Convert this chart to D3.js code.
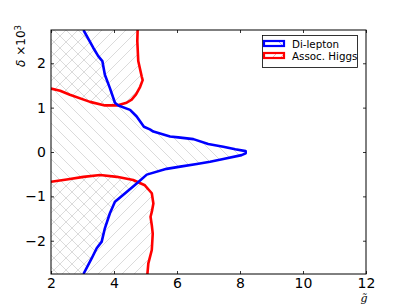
<!DOCTYPE html>
<html><head><meta charset="utf-8">
<script src="https://cdn.jsdelivr.net/npm/d3@7"></script>
<style>html,body{margin:0;padding:0;background:#fff}svg{display:block}</style>
</head><body>
<script>
// ---- data ----
const xTicks = [2, 4, 6, 8, 10, 12];
const yTicks = [-2, -1, 0, 1, 2];
const seriesNames = ["Di-lepton", "Assoc. Higgs"];
// Di-lepton contour (top to bottom)
const dilepX = [3.03,3.34,3.50,3.63,3.71,3.87,4.03,4.14,4.51,4.72,4.95,5.14,5.25,5.78,6.04,6.52,6.99,7.47,7.85,8.18,8.18,8.05,7.47,7.05,6.63,6.10,5.67,5.04,4.72,4.40,4.03,3.87,3.71,3.61,3.45,3.29,3.03];
const dilepY = [2.75,2.35,2.16,2.05,1.74,1.44,1.11,1.05,0.95,0.80,0.57,0.51,0.46,0.35,0.33,0.29,0.18,0.12,0.06,0.02,-0.03,-0.07,-0.16,-0.22,-0.27,-0.33,-0.38,-0.51,-0.71,-0.90,-1.12,-1.38,-1.72,-2.02,-2.17,-2.40,-2.75];
// Assoc. Higgs contour, upper branch (left edge to top edge)
const higgsTopX = [2.0,2.29,2.60,3.24,3.71,4.09,4.40,4.56,4.70,4.83,4.91,4.88,4.77,4.74,4.75];
const higgsTopY = [1.43,1.38,1.29,1.13,1.05,1.05,1.11,1.18,1.30,1.47,1.62,1.70,2.05,2.50,2.75];
// Assoc. Higgs contour, lower branch (left edge to bottom edge)
const higgsBotX = [2.0,2.50,3.03,3.56,4.09,4.61,4.98,5.20,5.25,5.20,5.16,5.20,5.23,5.20,5.09,5.06];
const higgsBotY = [-0.67,-0.62,-0.56,-0.52,-0.56,-0.63,-0.75,-0.93,-1.16,-1.35,-1.46,-1.65,-1.84,-2.21,-2.51,-2.75];
const xDomain = [2, 12];
const yDomain = [-2.75, 2.75];

// ---- layout ----
const W = 407, H = 305;
const L = 51, R = 366, T = 30, B = 274;
const svg = d3.select("body").append("svg").attr("width", W).attr("height", H)
  .style("font-family", "'DejaVu Sans', sans-serif");
const x = d3.scaleLinear().domain(xDomain).range([L, R]);
const y = d3.scaleLinear().domain(yDomain).range([B, T]);

const defs = svg.append("defs");
const hatchCol = "#cbcbcb", S = 12;
function mkPattern(id, dir, col, sw) {
  const p = defs.append("pattern").attr("id", id).attr("patternUnits", "userSpaceOnUse")
    .attr("width", S).attr("height", S);
  const segs = dir === "back"
    ? [[0,0,S,S],[-S/2,S/2,S/2,S*1.5],[S/2,-S/2,S*1.5,S/2]]
    : [[0,S,S,0],[-S/2,S/2,S/2,-S/2],[S/2,S*1.5,S*1.5,S/2]];
  segs.forEach(s => p.append("line").attr("x1", s[0]).attr("y1", s[1]).attr("x2", s[2]).attr("y2", s[3])
    .attr("stroke", col).attr("stroke-width", sw));
}
mkPattern("hBack", "back", hatchCol, 0.7);
mkPattern("hFwd", "fwd", hatchCol, 0.7);
defs.append("clipPath").attr("id", "plotClip").append("rect")
  .attr("x", L).attr("y", T).attr("width", R - L).attr("height", B - T);

const g = svg.append("g").attr("clip-path", "url(#plotClip)");
const dilep = dilepX.map((v, i) => [v, dilepY[i]]);
const hTop = higgsTopX.map((v, i) => [v, higgsTopY[i]]);
const hBot = higgsBotX.map((v, i) => [v, higgsBotY[i]]);
const line = d3.line().x(d => x(d[0])).y(d => y(d[1]));

// hatched regions
const x0 = xDomain[0], yT = yDomain[1], yB = yDomain[0];
g.append("path").attr("d", line([[x0, yT], ...dilep, [x0, yB]]) + "Z")
  .attr("fill", "url(#hBack)").attr("stroke", "none");
g.append("path").attr("d", line([...hTop, [x0, yT]]) + "Z")
  .attr("fill", "url(#hFwd)").attr("stroke", "none");
g.append("path").attr("d", line([...hBot, [x0, yB]]) + "Z")
  .attr("fill", "url(#hFwd)").attr("stroke", "none");

// contour lines
g.append("path").attr("d", line(hTop)).attr("fill", "none").attr("stroke", "#ff0000")
  .attr("stroke-width", 2.6).attr("stroke-linejoin", "round");
g.append("path").attr("d", line(hBot)).attr("fill", "none").attr("stroke", "#ff0000")
  .attr("stroke-width", 2.6).attr("stroke-linejoin", "round");
g.append("path").attr("d", line(dilep)).attr("fill", "none").attr("stroke", "#0000ff")
  .attr("stroke-width", 2.6).attr("stroke-linejoin", "round");

// axes
const tl = 3;
const axB = svg.append("g").attr("transform", `translate(0,${B})`)
  .call(d3.axisBottom(x).tickValues(xTicks).tickSizeInner(-tl).tickSizeOuter(0).tickPadding(5).tickFormat(d3.format("d")));
const axT = svg.append("g").attr("transform", `translate(0,${T})`)
  .call(d3.axisTop(x).tickValues(xTicks).tickSizeInner(-tl).tickSizeOuter(0).tickFormat(""));
const axL = svg.append("g").attr("transform", `translate(${L},0)`)
  .call(d3.axisLeft(y).tickValues(yTicks).tickSizeInner(-tl).tickSizeOuter(0).tickPadding(5)
    .tickFormat(d => d < 0 ? "\u2212" + Math.abs(d) : d));
const axR = svg.append("g").attr("transform", `translate(${R},0)`)
  .call(d3.axisRight(y).tickValues(yTicks).tickSizeInner(-tl).tickSizeOuter(0).tickFormat(""));
[axB, axT, axL, axR].forEach(a => {
  a.select(".domain").remove();
  a.selectAll(".tick line").attr("stroke", "#000").attr("stroke-width", 0.8);
  a.selectAll(".tick text").attr("fill", "#000").style("font-size", "14px")
    .style("font-family", "'DejaVu Sans', sans-serif");
});
axB.selectAll(".tick text").attr("y", 4).attr("dy", "0.71em");
svg.append("rect").attr("x", L).attr("y", T).attr("width", R - L).attr("height", B - T)
  .attr("fill", "none").attr("stroke", "#000").attr("stroke-width", 1);

// axis labels
const yl = svg.append("text").attr("transform", "translate(25,46) rotate(-90)")
  .attr("text-anchor", "middle").style("font-size", "12px").attr("fill", "#000");
yl.append("tspan").style("font-style", "italic").text("\u03b4");
yl.append("tspan").text(" \u00d710");
yl.append("tspan").attr("dy", "-0.45em").style("font-size", "8.5px").text("3");
svg.append("text").attr("x", 364).attr("y", 302).attr("text-anchor", "middle")
  .style("font-size", "11px").style("font-style", "italic").style("font-family", "'DejaVu Serif', serif")
  .attr("fill", "#000").text("g\u0303");

// legend
const lg = svg.append("g");
lg.append("rect").attr("x", 262.5).attr("y", 35.5).attr("width", 95).attr("height", 32)
  .attr("fill", "#fff").attr("stroke", "#000").attr("stroke-width", 0.8);
const legCols = ["#0000ff", "#ff0000"];
const legHatch = ["#9999ff", "#ff9999"];
seriesNames.forEach((name, i) => {
  const yy = 40 + i * 12;
  const cid = "lc" + i;
  defs.append("clipPath").attr("id", cid).append("rect").attr("x", 264).attr("y", yy + 1).attr("width", 20).attr("height", 5);
  const hg = lg.append("g").attr("clip-path", `url(#${cid})`);
  if (i === 0) {
    hg.append("line").attr("x1", 277).attr("y1", yy).attr("x2", 285).attr("y2", yy + 8)
      .attr("stroke", legHatch[i]).attr("stroke-width", 0.8);
  } else {
    [270, 278].forEach(xx => hg.append("line").attr("x1", xx).attr("y1", yy + 8).attr("x2", xx + 8).attr("y2", yy)
      .attr("stroke", legHatch[i]).attr("stroke-width", 0.8));
  }
  lg.append("rect").attr("x", 264).attr("y", yy + 1).attr("width", 20).attr("height", 5)
    .attr("fill", "none").attr("stroke", legCols[i]).attr("stroke-width", 2.2);
  lg.append("text").attr("x", 292).attr("y", yy + 7.5).style("font-size", "10.3px").attr("fill", "#000").text(name);
});
</script>
</body></html>
